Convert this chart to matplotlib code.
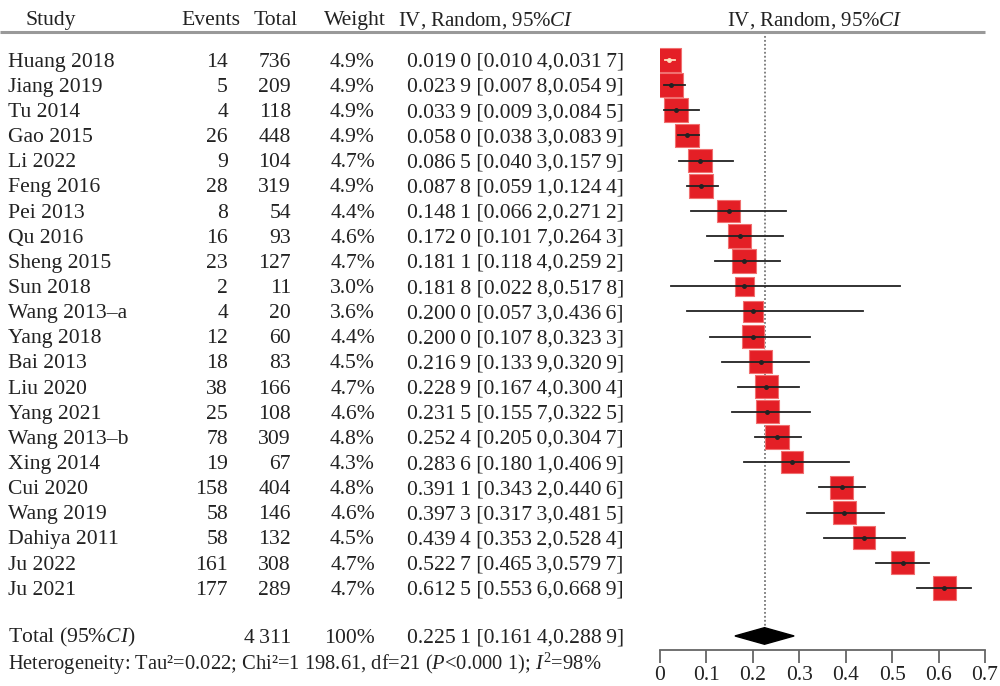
import matplotlib
matplotlib.use("Agg")
import matplotlib.pyplot as plt
from matplotlib.transforms import blended_transform_factory
import numpy as np

plt.rcParams['font.family'] = ['Liberation Serif', 'DejaVu Serif']
plt.rcParams['mathtext.fontset'] = 'custom'
plt.rcParams['mathtext.rm'] = 'Liberation Serif'
plt.rcParams['mathtext.it'] = 'Liberation Serif:italic'

studies = ["Huang 2018", "Jiang 2019", "Tu 2014", "Gao 2015", "Li 2022", "Feng 2016",
           "Pei 2013", "Qu 2016", "Sheng 2015", "Sun 2018", "Wang 2013\u2013a", "Yang 2018",
           "Bai 2013", "Liu 2020", "Yang 2021", "Wang 2013\u2013b", "Xing 2014", "Cui 2020",
           "Wang 2019", "Dahiya 2011", "Ju 2022", "Ju 2021"]
events = [14, 5, 4, 26, 9, 28, 8, 16, 23, 2, 4, 12, 18, 38, 25, 78, 19, 158, 58, 58, 161, 177]
totals = [736, 209, 118, 448, 104, 319, 54, 93, 127, 11, 20, 60, 83, 166, 108, 309, 67, 404,
          146, 132, 308, 289]
weights = [4.9, 4.9, 4.9, 4.9, 4.7, 4.9, 4.4, 4.6, 4.7, 3.0, 3.6, 4.4, 4.5, 4.7, 4.6, 4.8,
           4.3, 4.8, 4.6, 4.5, 4.7, 4.7]
est = [0.0190, 0.0239, 0.0339, 0.0580, 0.0865, 0.0878, 0.1481, 0.1720, 0.1811, 0.1818,
       0.2000, 0.2000, 0.2169, 0.2289, 0.2315, 0.2524, 0.2836, 0.3911, 0.3973, 0.4394,
       0.5227, 0.6125]
lo = [0.0104, 0.0078, 0.0093, 0.0383, 0.0403, 0.0591, 0.0662, 0.1017, 0.1184, 0.0228,
      0.0573, 0.1078, 0.1339, 0.1674, 0.1557, 0.2050, 0.1801, 0.3432, 0.3173, 0.3532,
      0.4653, 0.5536]
hi = [0.0317, 0.0549, 0.0845, 0.0839, 0.1579, 0.1244, 0.2712, 0.2643, 0.2592, 0.5178,
      0.4366, 0.3233, 0.3209, 0.3004, 0.3225, 0.3047, 0.4069, 0.4406, 0.4815, 0.5284,
      0.5797, 0.6689]
total_n = "4\u2009311"
total_weight = "100%"
pooled = 0.2251
pooled_lo = 0.1614
pooled_hi = 0.2889
heterogeneity = (r"Heterogeneity: Tau²=0.022; Chi²=1 198.61, df=21 ($\mathit{P}$<0.000 1); "
                 r"$\mathit{I}^{\mathrm{2}}$=98%")
xticks = [0, 0.1, 0.2, 0.3, 0.4, 0.5, 0.6, 0.7]


def fmt4(v):
    s = f"{v:.4f}"
    return s[:-1] + "\u2009" + s[-1]


def ci_text(e, l, h):
    return f"{fmt4(e)} [{fmt4(l)},{fmt4(h)}]"


fig = plt.figure(figsize=(10, 6.86), dpi=100)
fig.patch.set_facecolor('white')
ax = fig.add_axes([0.66, 0.0, 0.325, 1.0])
ax.set_xlim(0, 0.7)
row_px = 25.14
ax.set_ylim((686 - 60) / row_px, -60 / row_px)
ax.patch.set_alpha(0)

FS = 15.6
TC = '#222222'
tr = blended_transform_factory(fig.transFigure, ax.transData)
base = 0.27  # baseline offset (rows) below the row centre

n = len(studies)
rows = np.arange(n)
total_row = 22.91
het_row = 23.98
header_row = -1.65
rule_row = -1.11
axis_row = 23.47


def put(x, y, t, ha='left', fs=FS):
    ax.text(x, y + base, t, transform=tr, ha=ha, va='baseline', fontsize=fs, color=TC)


# header
hdr = [("Study", 0.051, 'center', FS), ("Events", 0.211, 'center', FS),
       ("Total", 0.276, 'center', FS), ("Weight", 0.355, 'center', FS),
       (r"IV, Random, 95%$\mathit{CI}$", 0.486, 'center', 15.0),
       (r"IV, Random, 95%$\mathit{CI}$", 0.815, 'center', 15.0)]
for t, x, ha, fs in hdr:
    put(x, header_row, t, ha, fs)
ax.plot([0.0, 0.985], [rule_row, rule_row], transform=tr, color='#999999', lw=2.2,
        clip_on=False, solid_capstyle='butt')

# rows text
for i in range(n):
    y = rows[i]
    put(0.008, y, studies[i])
    put(0.228, y, str(events[i]), 'right')
    put(0.291, y, str(totals[i]), 'right')
    put(0.375, y, f"{weights[i]:.1f}%", 'right')
    put(0.407, y, ci_text(est[i], lo[i], hi[i]))

put(0.008, total_row, r"Total (95%$\mathit{CI}$)")
put(0.291, total_row, total_n, 'right')
put(0.375, total_row, total_weight, 'right')
put(0.407, total_row, ci_text(pooled, pooled_lo, pooled_hi))
put(0.008, het_row, heterogeneity, fs=14.8)

# pooled dotted line
ax.plot([pooled, pooled], [rule_row, total_row - 0.33], color='#777777', lw=1.3,
        linestyle=(0, (1, 1.2)), zorder=1)

# boxes
sizes = np.array(weights) * 60
ax.scatter(est, rows, s=sizes, marker='s', facecolor='#E41F26', edgecolor='#F07070',
           linewidth=0.8, zorder=2)
half_box = 12 / 464.0
for i in range(n):
    inside = (est[i] - lo[i] < half_box) and (hi[i] - est[i] < half_box)
    col = '#FFE0C0' if inside else '#222222'
    ax.plot([lo[i], hi[i]], [rows[i], rows[i]], color=col, lw=1.3, zorder=3)
    ax.plot([est[i]], [rows[i]], marker='o', ms=2.5, color=col, zorder=4)

# diamond
dh = 0.33
ax.fill([pooled_lo, pooled, pooled_hi, pooled],
        [total_row, total_row - dh, total_row, total_row + dh], color='black', zorder=3)

# axis
for s in ['top', 'right', 'left']:
    ax.spines[s].set_visible(False)
ax.spines['bottom'].set_position(('data', axis_row))
ax.spines['bottom'].set_bounds(0, 0.7)
ax.spines['bottom'].set_color('#666666')
ax.spines['bottom'].set_linewidth(1.3)
ax.set_yticks([])
ax.set_xticks(xticks)
ax.set_xticklabels([f"{t:g}" for t in xticks])
ax.tick_params(axis='x', direction='out', length=9, width=1.3, color='#666666',
               labelsize=15.5, pad=2.5, labelcolor=TC)

fig.savefig("out.png", dpi=100, facecolor='white')
